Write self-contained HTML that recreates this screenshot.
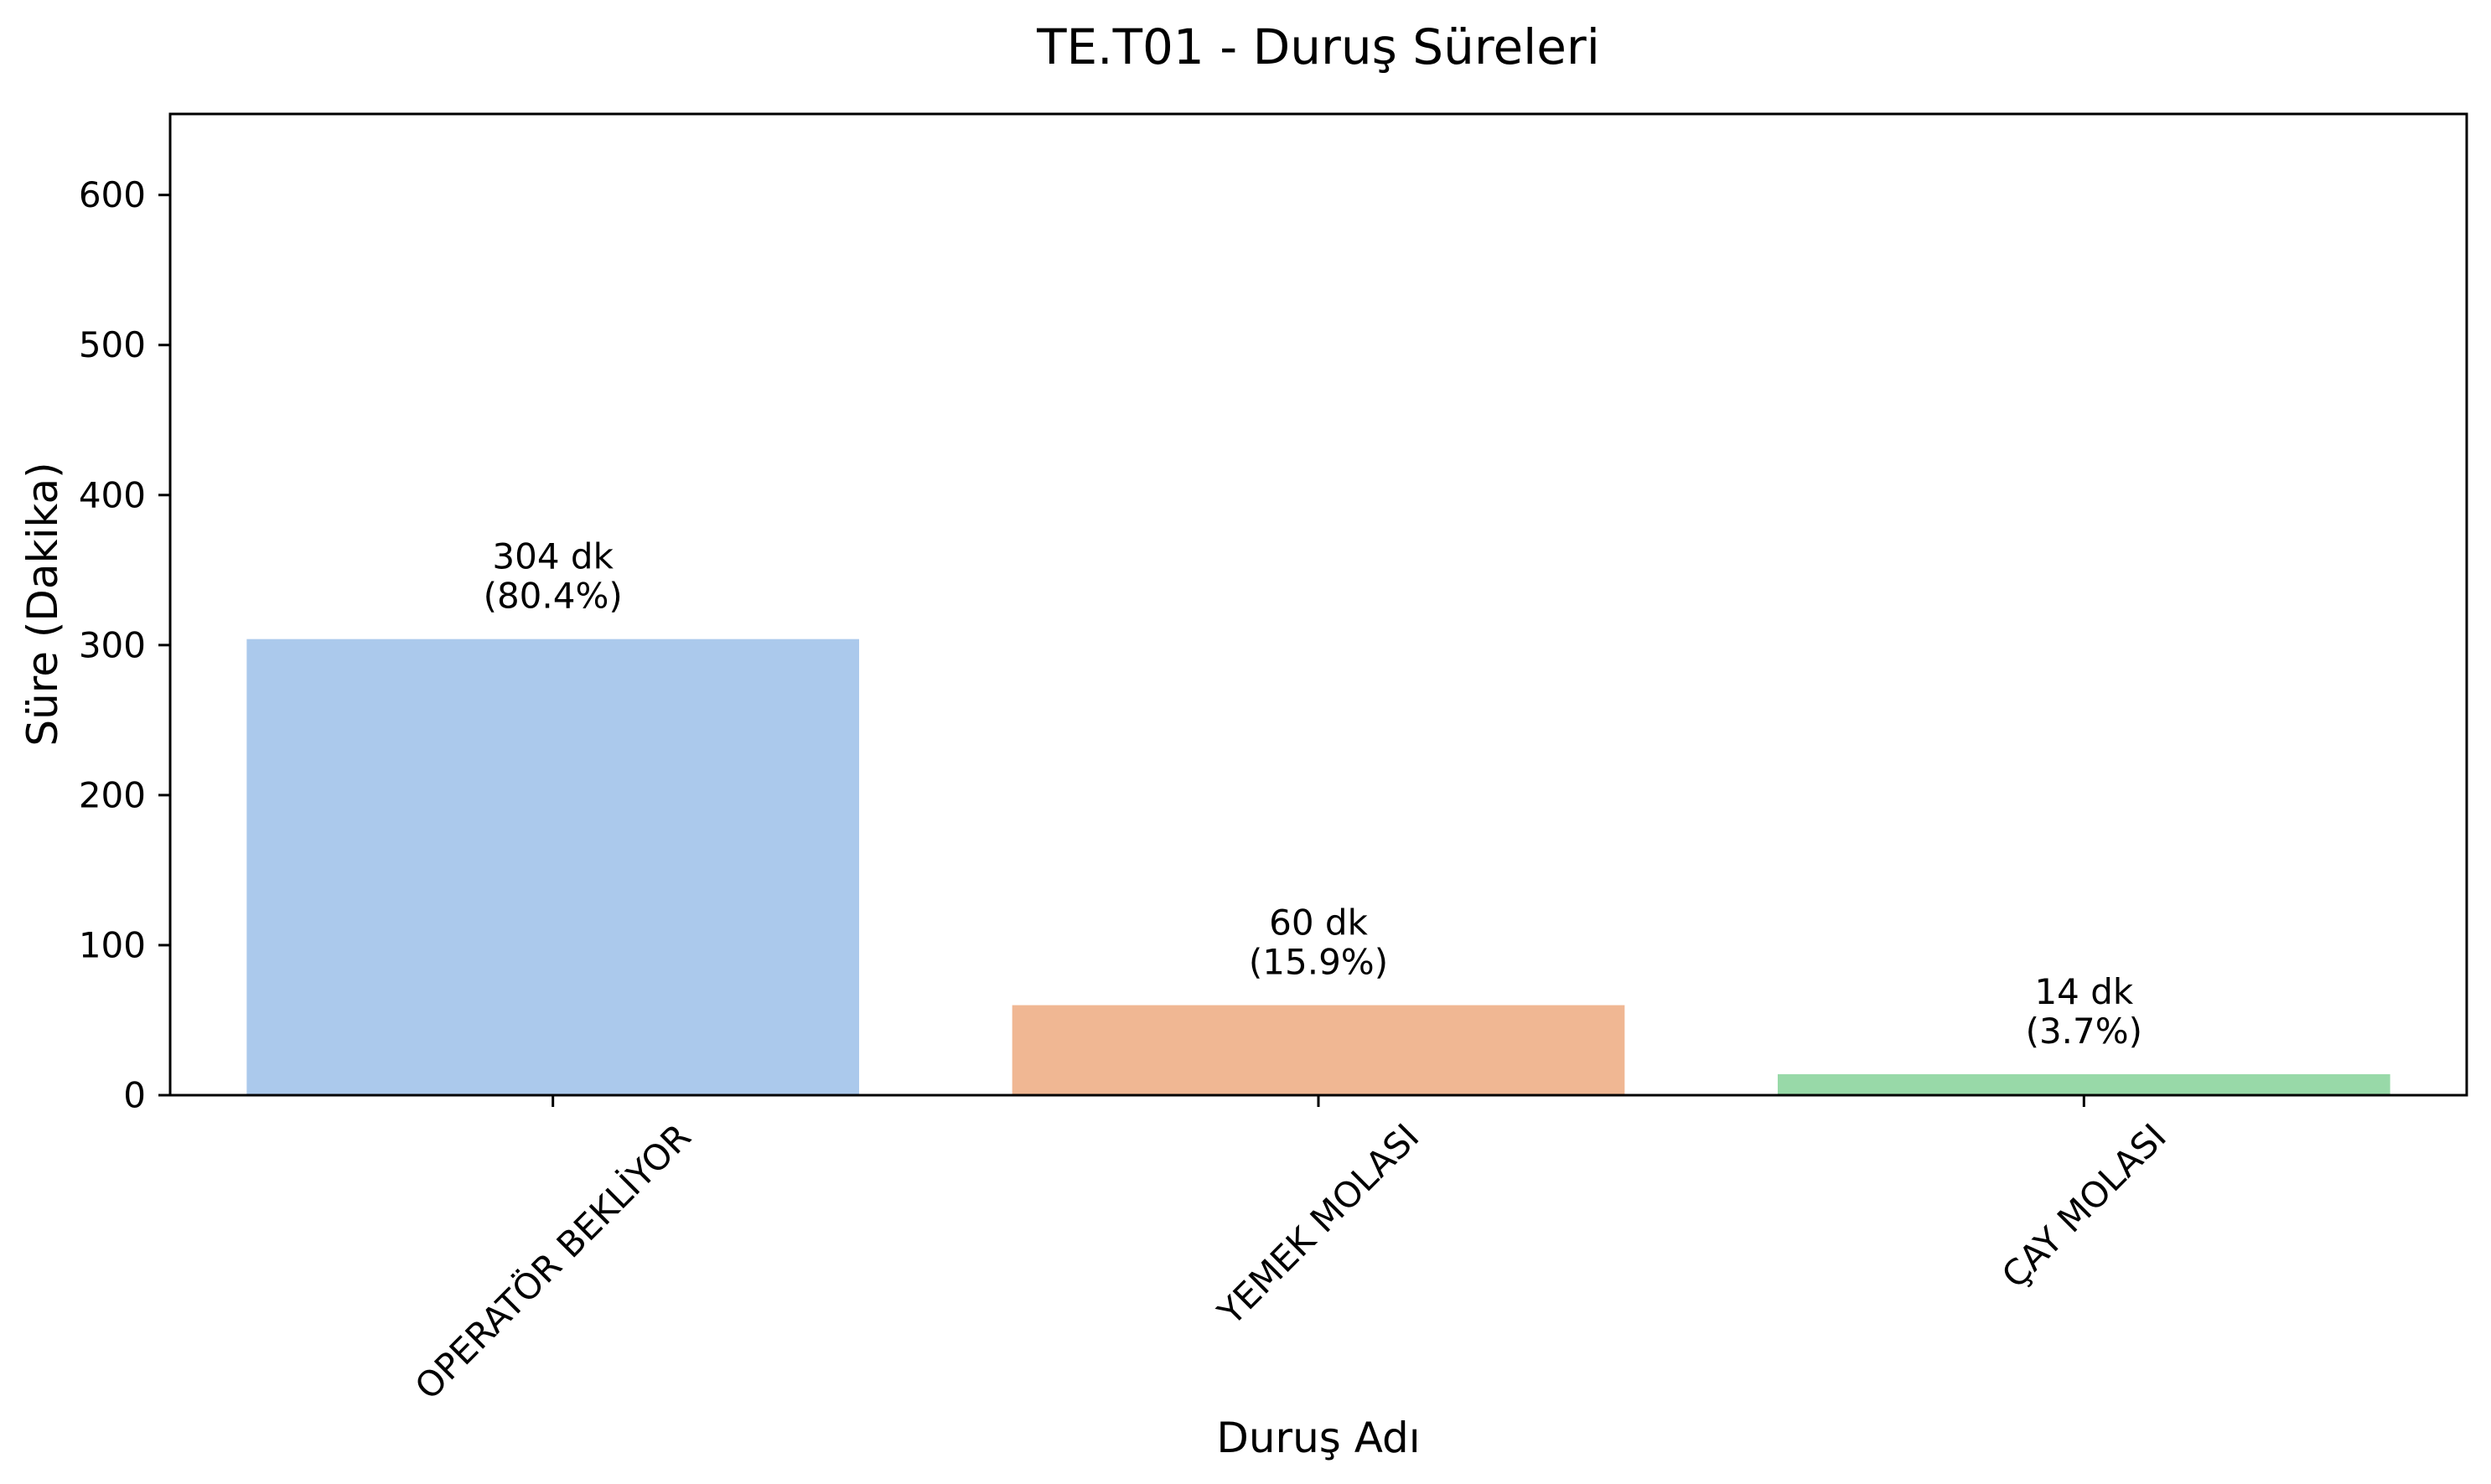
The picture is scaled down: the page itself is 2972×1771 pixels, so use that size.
<!DOCTYPE html>
<html><head><meta charset="utf-8"><style>
html,body{margin:0;padding:0;background:#fff;}
svg{display:block;font-family:"DejaVu Sans","Liberation Sans",sans-serif;}
</style></head><body>
<svg id="chart" width="2972" height="1771" viewBox="0 0 2972 1771" xmlns="http://www.w3.org/2000/svg">
<rect width="2972" height="1771" fill="#fff"/>
<text x="1573" y="76" font-size="58" text-anchor="middle" fill="#000">TE.T01 - Duruş Süreleri</text>
<g id="plot"></g>
<text transform="translate(51,721) rotate(-90)" font-size="50" text-anchor="middle" dominant-baseline="central" fill="#000">Süre (Dakika)</text>
<text x="1573" y="1733" font-size="50" text-anchor="middle" fill="#000">Duruş Adı</text>
</svg>
<script>
const categories = ["OPERATÖR BEKLİYOR", "YEMEK MOLASI", "ÇAY MOLASI"];
const durations = [304, 60, 14];
const percents = ["80.4", "15.9", "3.7"];
const yTicks = [0, 100, 200, 300, 400, 500, 600];
const colors = ["#abc9ec", "#f0b793", "#98d9a8"];

const NS = "http://www.w3.org/2000/svg";
const L = 203, R = 2943, T = 136, B = 1307;
const yMax = 654;
const FS = 42;
const yScale = v => B - v / yMax * (B - T);
const xScale = i => L + (i + 0.5) / categories.length * (R - L);
const bw = 0.8 * (R - L) / categories.length;
const plot = document.getElementById('plot');
function mk(tag, attrs, text) {
  const e = document.createElementNS(NS, tag);
  for (const k in attrs) e.setAttribute(k, attrs[k]);
  if (text !== undefined) e.textContent = text;
  plot.appendChild(e);
  return e;
}
durations.forEach((v, i) => {
  const cx = xScale(i);
  const r = mk('rect', {x: cx - bw / 2, y: yScale(v), width: bw, height: B - yScale(v), fill: colors[i]});
  
  
  const t1 = mk('text', {x: cx, y: yScale(v) - 84, 'font-size': FS, 'text-anchor': 'middle', fill: '#000'}, v + ' dk');
  
  
  const t2 = mk('text', {x: cx, y: yScale(v) - 37, 'font-size': FS, 'text-anchor': 'middle', fill: '#000'}, '(' + percents[i] + '%)');
  
  
  const tk = mk('line', {x1: cx, x2: cx, y1: B, y2: B + 14, stroke: '#000', 'stroke-width': 3});
  
  
  const lab = mk('text', {'font-size': FS, 'text-anchor': 'middle', 'dominant-baseline': 'central', fill: '#000'}, categories[i]);
  
  
  const len = lab.getComputedTextLength();
  const cy = B + 27 + (len + FS) / (2 * Math.SQRT2);
  lab.setAttribute('transform', 'translate(' + cx + ',' + cy + ') rotate(-45)');
});
yTicks.forEach(v => {
  const y = yScale(v);
  const tk = mk('line', {x1: L - 14, x2: L, y1: y, y2: y, stroke: '#000', 'stroke-width': 3});
  
  
  const t = mk('text', {x: L - 29, y: y, 'font-size': FS, 'text-anchor': 'end', 'dominant-baseline': 'central', fill: '#000'}, v);
  
  
});
const frame = mk('rect', {x: L, y: T, width: R - L, height: B - T, fill: 'none', stroke: '#000', 'stroke-width': 3});


</script>
</body></html>
